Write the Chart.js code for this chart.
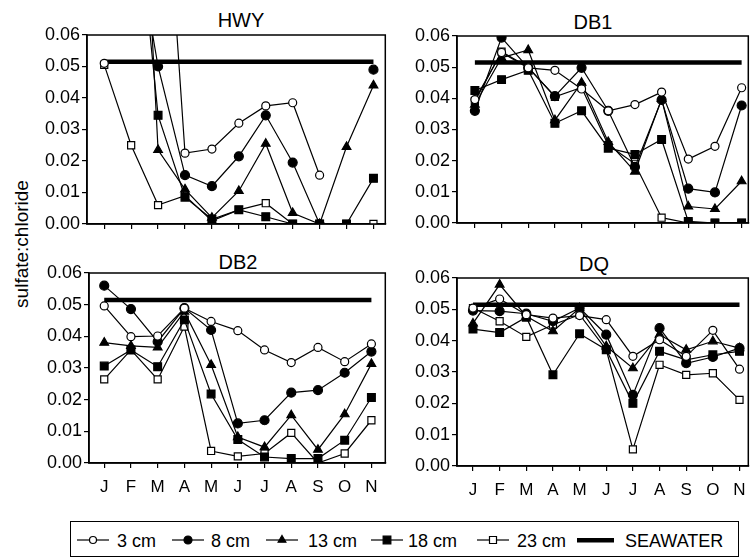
<!DOCTYPE html>
<html>
<head>
<meta charset="utf-8">
<script src="https://cdn.jsdelivr.net/npm/chart.js@4.4.1/dist/chart.umd.min.js"></script>
<style>
  html, body { margin: 0; padding: 0; background: #fff; }
  body { width: 755px; height: 560px; position: relative; overflow: hidden;
         font-family: "Liberation Sans", Arial, sans-serif; color: #000; }
  canvas.panel { position: absolute; }
  .title { position: absolute; font-size: 20px; line-height: 1; transform: translate(-50%, -50%); white-space: nowrap; }
  .ytitle { position: absolute; left: 21px; top: 244px; font-size: 19px; line-height: 1; color: #000;
            transform: translate(-50%, -50%) rotate(-90deg); white-space: nowrap; }
  .legend { position: absolute; left: 70px; top: 521px; width: 667px; height: 34px; border: 1.5px solid #000; }
  .legend canvas { position: absolute; }
  .legend span { position: absolute; font-size: 18px; line-height: 1; top: 10px; white-space: nowrap; }
</style>
</head>
<body>
<div class="title" style="left:241px; top:20px">HWY</div>
<div class="title" style="left:593px; top:22px">DB1</div>
<div class="title" style="left:238px; top:262px">DB2</div>
<div class="title" style="left:594px; top:264px">DQ</div>
<div class="ytitle">sulfate:chloride</div>

<canvas id="hwy" class="panel" width="362" height="240" style="left:30px; top:0px"></canvas>
<canvas id="db1" class="panel" width="355" height="240" style="left:400px; top:0px"></canvas>
<canvas id="db2" class="panel" width="362" height="262" style="left:30px; top:240px"></canvas>
<canvas id="dq" class="panel" width="355" height="262" style="left:400px; top:240px"></canvas>

<div class="legend" id="legend"></div>

<script>
// ---------- data ----------
const months = ["J", "F", "M", "A", "M", "J", "J", "A", "S", "O", "N"];
const yTicks = [0, 0.01, 0.02, 0.03, 0.04, 0.05, 0.06];
const depths = ["3 cm", "8 cm", "13 cm", "18 cm", "23 cm"];
const seawater = [0.0515, 0.0515, 0.0515, 0.0515, 0.0515, 0.0515, 0.0515, 0.0515, 0.0515, 0.0515, 0.0515];

// HWY (some early values run far off the top of the scale)
const hwy3 = [0.051, null, 0.148, 0.0225, 0.0238, 0.032, 0.0375, 0.0385, 0.0155, null, null];
const hwy8 = [null, 0.10, 0.050, 0.0155, 0.012, 0.0215, 0.0345, 0.0195, 0.0, null, 0.049];
const hwy13 = [null, 0.19, 0.0235, 0.011, 0.002, 0.0105, 0.0255, 0.0035, 0.0, 0.0245, 0.044];
const hwy18 = [null, 0.12, 0.0345, 0.0085, 0.0015, 0.0045, 0.0023, 0.0, 0.0, 0.0, 0.0145];
const hwy23 = [0.0505, 0.025, 0.006, 0.009, 0.001, 0.0045, 0.0066, 0.0, 0.0, 0.0, 0.0];

// DB1
const db1_3 = [0.0396, 0.0547, 0.0498, 0.049, 0.043, 0.036, 0.038, 0.042, 0.0205, 0.0246, 0.0434];
const db1_8 = [0.036, 0.0595, 0.0498, 0.0407, 0.0498, 0.036, 0.018, 0.0395, 0.011, 0.0098, 0.0377];
const db1_13 = [0.038, 0.053, 0.0555, 0.033, 0.045, 0.026, 0.0165, 0.0398, 0.0053, 0.0045, 0.0134];
const db1_18 = [0.0425, 0.046, 0.049, 0.032, 0.036, 0.024, 0.022, 0.0268, 0.0005, 0.0, 0.0];
const db1_23 = [0.039, 0.055, 0.050, 0.0405, 0.0435, 0.025, 0.019, 0.0017, 0.0, 0.0, 0.0];

// DB2
const db2_3 = [0.0496, 0.0399, 0.0401, 0.0489, 0.0447, 0.0418, 0.0357, 0.0317, 0.0365, 0.032, 0.0376];
const db2_8 = [0.056, 0.0486, 0.0383, 0.0489, 0.042, 0.0125, 0.0135, 0.0222, 0.023, 0.0285, 0.0352];
const db2_13 = [0.038, 0.037, 0.0365, 0.0478, 0.031, 0.0082, 0.005, 0.0151, 0.0042, 0.0154, 0.0313];
const db2_18 = [0.0306, 0.0357, 0.0304, 0.0452, 0.0218, 0.0074, 0.0019, 0.0014, 0.0014, 0.0072, 0.0207];
const db2_23 = [0.0264, 0.0357, 0.0264, 0.0431, 0.0038, 0.0021, 0.003, 0.0095, 0.0, 0.003, 0.0135];

// DQ
const dq3 = [0.0504, 0.0533, 0.0483, 0.0472, 0.048, 0.0467, 0.035, 0.0403, 0.035, 0.0433, 0.0309];
const dq8 = [0.0496, 0.0494, 0.0486, 0.0462, 0.0504, 0.0419, 0.0227, 0.044, 0.0328, 0.0348, 0.0376];
const dq13 = [0.0455, 0.0579, 0.0478, 0.043, 0.0504, 0.0382, 0.0312, 0.0419, 0.0371, 0.0398, 0.0376];
const dq18 = [0.0437, 0.0426, 0.0475, 0.0291, 0.0422, 0.0371, 0.02, 0.0366, 0.0339, 0.0355, 0.0366];
const dq23 = [0.0504, 0.0462, 0.0412, 0.0451, 0.0483, 0.0371, 0.0053, 0.0323, 0.0291, 0.0296, 0.0211];

// ---------- styles ----------
const markers = [
  { pointStyle: "circle", fill: "#fff", radius: 4 },
  { pointStyle: "circle", fill: "#000", radius: 4.5 },
  { pointStyle: "triangle", fill: "#000", radius: 5 },
  { pointStyle: "rect", fill: "#000", radius: 5.5 },
  { pointStyle: "rect", fill: "#fff", radius: 5 },
];
const FONT = "'Liberation Sans', Arial, sans-serif";

function toPoints(arr) {
  return arr.map((v, i) => ({ x: i, y: v }));
}

function buildDatasets(series) {
  const ds = series.map((arr, k) => ({
    label: depths[k],
    data: toPoints(arr),
    borderColor: "#000",
    borderWidth: 1.2,
    pointStyle: markers[k].pointStyle,
    pointRadius: markers[k].radius,
    pointBackgroundColor: markers[k].fill,
    pointBorderColor: "#000",
    pointBorderWidth: 1.2,
    fill: false,
    tension: 0,
    order: 1,
  }));
  ds.push({
    label: "SEAWATER",
    data: toPoints(seawater),
    borderColor: "#000",
    borderWidth: 4.5,
    pointRadius: 0,
    fill: false,
    order: 5,
  });
  return ds;
}

// box round each plot area
const frame = {
  id: "frame",
  afterDraw(chart) {
    const { ctx, chartArea: a } = chart;
    ctx.save();
    ctx.strokeStyle = "#000";
    ctx.lineWidth = 1.5;
    ctx.strokeRect(a.left, a.top, a.right - a.left, a.bottom - a.top);
    ctx.restore();
  },
};

function makePanel(id, series, o) {
  return new Chart(document.getElementById(id), {
    type: "line",
    data: { datasets: buildDatasets(series) },
    options: {
      responsive: false,
      animation: false,
      layout: { padding: { top: o.padTop, right: o.padRight, left: 0, bottom: 0 } },
      plugins: { legend: { display: false }, tooltip: { enabled: false } },
      scales: {
        x: {
          type: "linear",
          min: o.xMin,
          max: o.xMax,
          afterBuildTicks: (s) => { s.ticks = months.map((m, i) => ({ value: i })); },
          afterFit: (s) => { s.height = o.xH; },
          grid: { drawOnChartArea: false, tickLength: 5, color: "#000", lineWidth: 1.2 },
          border: { color: "#000", width: 1.5 },
          ticks: {
            callback: (v) => (o.labels ? months[v] : ""),
            font: { family: FONT, size: 17 },
            color: "#000",
            autoSkip: false,
            maxRotation: 0,
            padding: 9,
          },
        },
        y: {
          min: 0,
          max: 0.06,
          afterBuildTicks: (s) => { s.ticks = yTicks.map((v) => ({ value: v })); },
          afterFit: (s) => { s.width = o.yW; },
          grid: { drawOnChartArea: false, tickLength: 5, color: "#000", lineWidth: 1.2 },
          border: { color: "#000", width: 1.5 },
          ticks: {
            callback: (v) => Number(v).toFixed(2),
            font: { family: FONT, size: 18 },
            color: "#000",
            padding: 2,
          },
        },
      },
    },
    plugins: [frame],
  });
}

makePanel("hwy", [hwy3, hwy8, hwy13, hwy18, hwy23],
  { padTop: 35, padRight: 5, yW: 57, xH: 16, xMin: -0.64, xMax: 10.44, labels: false });
makePanel("db1", [db1_3, db1_8, db1_13, db1_18, db1_23],
  { padTop: 36, padRight: 0, yW: 57, xH: 17, xMin: -0.67, xMax: 10.25, labels: false });
makePanel("db2", [db2_3, db2_8, db2_13, db2_18, db2_23],
  { padTop: 33, padRight: 4, yW: 59, xH: 39, xMin: -0.57, xMax: 10.52, labels: true });
makePanel("dq", [dq3, dq8, dq13, dq18, dq23],
  { padTop: 38, padRight: 0, yW: 57, xH: 36, xMin: -0.6, xMax: 10.33, labels: true });

// ---------- legend ----------
const legend = document.getElementById("legend");
const iconX = [6, 101, 195, 300, 406];
const textX = [46, 140, 237, 337, 446];

function drawMarker(ctx, k, cx, cy) {
  const m = markers[k];
  ctx.fillStyle = m.fill;
  ctx.strokeStyle = "#000";
  ctx.lineWidth = 1.2;
  ctx.beginPath();
  if (m.pointStyle === "circle") {
    ctx.arc(cx, cy, m.radius - 0.5, 0, Math.PI * 2);
  } else if (m.pointStyle === "triangle") {
    const r = m.radius - 0.5;
    ctx.moveTo(cx, cy - r);
    ctx.lineTo(cx + r * 0.866, cy + r * 0.5);
    ctx.lineTo(cx - r * 0.866, cy + r * 0.5);
    ctx.closePath();
  } else {
    const h = m.radius * 0.7;
    ctx.rect(cx - h, cy - h, 2 * h, 2 * h);
  }
  ctx.fill();
  ctx.stroke();
}

depths.forEach((name, k) => {
  const c = document.createElement("canvas");
  c.width = 32; c.height = 16;
  c.style.left = iconX[k] + "px";
  c.style.top = "10px";
  legend.appendChild(c);
  const ctx = c.getContext("2d");
  ctx.strokeStyle = "#000";
  ctx.lineWidth = 1.2;
  ctx.beginPath();
  ctx.moveTo(0, 8); ctx.lineTo(32, 8);
  ctx.stroke();
  drawMarker(ctx, k, 16, 8);
  const t = document.createElement("span");
  t.textContent = name;
  t.style.left = textX[k] + "px";
  legend.appendChild(t);
});

const sc = document.createElement("canvas");
sc.width = 37; sc.height = 16;
sc.style.left = "506px"; sc.style.top = "10px";
legend.appendChild(sc);
const sctx = sc.getContext("2d");
sctx.fillStyle = "#000";
sctx.fillRect(0, 6, 37, 4.5);
const st = document.createElement("span");
st.textContent = "SEAWATER";
st.style.left = "554px";
legend.appendChild(st);
</script>
</body>
</html>
